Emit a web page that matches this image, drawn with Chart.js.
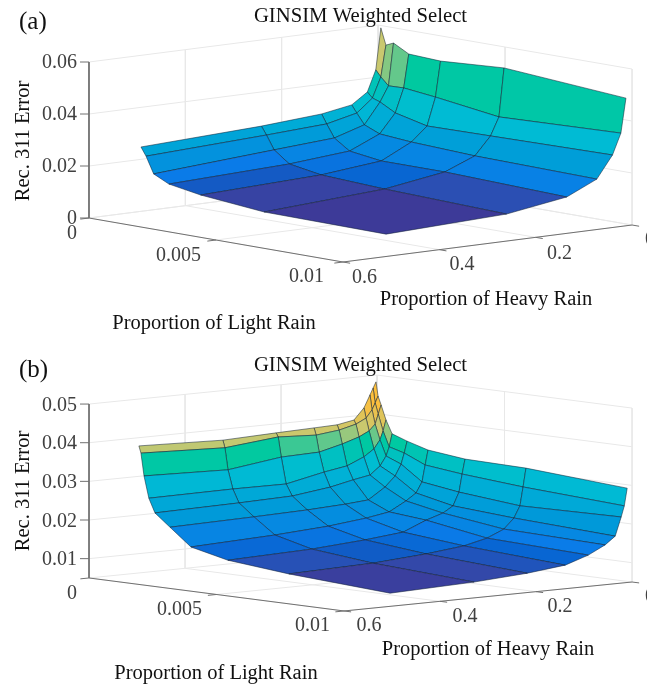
<!DOCTYPE html>
<html>
<head>
<meta charset="utf-8">
<title>GINSIM Weighted Select</title>
<script src="https://cdn.jsdelivr.net/npm/chart.js@4"></script>
<style>
    html, body { margin: 0; padding: 0; background: #ffffff; overflow: hidden; }
    canvas { display: block; }
</style>
</head>
<body>
<canvas id="chartA" width="647" height="342"></canvas>
<canvas id="chartB" width="647" height="343"></canvas>
<script>
// Tick labels
let lightTicks = [0, 0.005, 0.01];
let heavyTicks = [0, 0.2, 0.4, 0.6];
let errorTicksA = [0, 0.02, 0.04, 0.06];
let errorTicksB = [0.01, 0.02, 0.03, 0.04, 0.05];

// Panel (a): error[light][heavy]
let lightA = [0.00015, 0.00035, 0.00065, 0.00125, 0.0025, 0.005, 0.0098];
let heavyA = [0.002, 0.0125, 0.03, 0.0625, 0.125, 0.25, 0.5];
let errorA = [
    [0.0592, 0.0433, 0.0352, 0.0310, 0.0290, 0.0273, 0.0252],
    [0.0529, 0.0409, 0.0332, 0.0282, 0.0255, 0.0242, 0.0220],
    [0.0542, 0.0380, 0.0322, 0.0242, 0.0206, 0.0190, 0.0157],
    [0.0510, 0.0382, 0.0290, 0.0217, 0.0166, 0.0146, 0.0128],
    [0.0504, 0.0368, 0.0261, 0.0207, 0.0149, 0.0125, 0.0107],
    [0.0520, 0.0334, 0.0265, 0.0196, 0.0149, 0.0113, 0.0084],
    [0.0485, 0.0353, 0.0273, 0.0188, 0.0134, 0.0098, 0.0080]
];

// Panel (b): error[light][heavy]
let lightB = [0.00015, 0.00023, 0.00035, 0.00054, 0.00078, 0.00137, 0.00219, 0.00364, 0.00603, 0.01];
let heavyB = [0.01, 0.016, 0.0225, 0.035, 0.056, 0.091, 0.139, 0.218, 0.329, 0.504];
let errorB = [
    [0.0485, 0.0470, 0.0453, 0.0421, 0.0392, 0.0384, 0.0382, 0.0379, 0.0374, 0.0381],
    [0.0449, 0.0432, 0.0415, 0.0395, 0.0382, 0.0371, 0.0364, 0.0369, 0.0355, 0.0363],
    [0.0427, 0.0404, 0.0379, 0.0363, 0.0350, 0.0336, 0.0321, 0.0318, 0.0299, 0.0305],
    [0.0390, 0.0362, 0.0340, 0.0318, 0.0300, 0.0281, 0.0271, 0.0250, 0.0251, 0.0249],
    [0.0356, 0.0323, 0.0300, 0.0276, 0.0255, 0.0247, 0.0234, 0.0221, 0.0217, 0.0213],
    [0.0342, 0.0312, 0.0284, 0.0255, 0.0229, 0.0200, 0.0195, 0.0190, 0.0186, 0.0181],
    [0.0326, 0.0288, 0.0245, 0.0218, 0.0200, 0.0176, 0.0166, 0.0155, 0.0146, 0.0137],
    [0.0315, 0.0277, 0.0231, 0.0197, 0.0181, 0.0167, 0.0142, 0.0132, 0.0122, 0.0115],
    [0.0312, 0.0264, 0.0216, 0.0186, 0.0160, 0.0141, 0.0127, 0.0116, 0.0106, 0.0100],
    [0.0294, 0.0249, 0.0221, 0.0173, 0.0153, 0.0131, 0.0111, 0.0100, 0.0091, 0.0084]
];

// Colormap, one level list per panel
let colormap = ["#3d3a98", "#2f4db0", "#0860cc", "#0a7be8", "#009ad9", "#00bcd4", "#00c9a0", "#60c88c", "#c8c870", "#fdbf3c"];
let levelsA = [0.0094, 0.0123, 0.0128, 0.0155, 0.022, 0.031, 0.0442, 0.0452, 0.049, 0.055];
let levelsB = [0.0091, 0.0108, 0.0122, 0.0145, 0.020, 0.0285, 0.0335, 0.0348, 0.037, 0.043];

// View of the 3D box, canvas px per data unit
let viewA = { x0: 378, y0: 181, lx: 25400, ly: 4400, hx: 481.67, hy: 61.67, zs: 2600, zBase: 0 };
let viewB = { x0: 377, y0: 207, lx: 25500, ly: 3300, hx: 480, hy: 48.3, zs: 3865, zBase: 0.005 };

const SERIF = '"Liberation Serif", "Times New Roman", serif';
const GRID = "#e8e8e8";
const AXIS = "#707070";

function project(view, light, heavy, z) {
    return {
        x: view.x0 + view.lx * light - view.hx * heavy,
        y: view.y0 + view.ly * light + view.hy * heavy - view.zs * (z - view.zBase)
    };
}

function hexToRgb(hex) {
    return [1, 3, 5].map(k => parseInt(hex.substr(k, 2), 16));
}

function colorFor(value, levels) {
    if (value <= levels[0]) return colormap[0];
    for (let k = 1; k < levels.length; k++) {
        if (value <= levels[k]) {
            let t = (value - levels[k - 1]) / (levels[k] - levels[k - 1]);
            let a = hexToRgb(colormap[k - 1]);
            let b = hexToRgb(colormap[k]);
            let c = a.map((v, n) => Math.round(v + (b[n] - v) * t));
            return `rgb(${c[0]},${c[1]},${c[2]})`;
        }
    }
    return colormap[colormap.length - 1];
}

function lineSet(points, color, width) {
    return {
        data: points,
        showLine: true,
        fill: false,
        borderColor: color,
        borderWidth: width,
        pointRadius: 0,
        tension: 0,
        clip: false
    };
}

function buildDatasets(view, light, heavy, error, levels, errorTicks) {
    let sets = [];
    let lMax = lightTicks[lightTicks.length - 1];
    let hMax = heavyTicks[heavyTicks.length - 1];
    let zMax = errorTicks[errorTicks.length - 1];
    let zMin = view.zBase;

    // walls and floor grid
    errorTicks.forEach(z => {
        sets.push(lineSet([project(view, 0, hMax, z), project(view, 0, 0, z), project(view, lMax, 0, z)], GRID, 1));
    });
    heavyTicks.forEach(h => {
        sets.push(lineSet([project(view, 0, h, zMax), project(view, 0, h, zMin), project(view, lMax, h, zMin)], GRID, 1));
    });
    lightTicks.forEach(l => {
        sets.push(lineSet([project(view, l, 0, zMax), project(view, l, 0, zMin), project(view, l, hMax, zMin)], GRID, 1));
    });

    // axes with their tick marks
    sets.push(lineSet([project(view, 0, hMax, zMax), project(view, 0, hMax, zMin), project(view, lMax, hMax, zMin), project(view, lMax, 0, zMin)], AXIS, 1));
    errorTicks.forEach(z => {
        let p = project(view, 0, hMax, z);
        sets.push(lineSet([p, { x: p.x - 9, y: p.y }], AXIS, 1));
    });
    lightTicks.forEach(l => {
        sets.push(lineSet([project(view, l, hMax, zMin), project(view, l, hMax + 0.018, zMin)], AXIS, 1));
    });
    heavyTicks.forEach(h => {
        sets.push(lineSet([project(view, lMax, h, zMin), project(view, lMax + 0.00028, h, zMin)], AXIS, 1));
    });

    // surface quads, back corner first so the front ones paint over
    let quads = [];
    for (let i = 0; i < light.length - 1; i++) {
        for (let j = 0; j < heavy.length - 1; j++) {
            quads.push([i, j]);
        }
    }
    quads.sort((a, b) => (a[0] + a[1]) - (b[0] + b[1]));
    quads.forEach(q => {
        let i = q[0], j = q[1];
        let corners = [[i, j], [i + 1, j], [i + 1, j + 1], [i, j + 1], [i, j]];
        let mean = (error[i][j] + error[i + 1][j] + error[i + 1][j + 1] + error[i][j + 1]) / 4;
        sets.push({
            data: corners.map(c => project(view, light[c[0]], heavy[c[1]], error[c[0]][c[1]])),
            showLine: true,
            fill: "shape",
            backgroundColor: colorFor(mean, levels),
            borderColor: "rgba(15,30,50,0.8)",
            borderWidth: 0.65,
            pointRadius: 0,
            tension: 0,
            clip: false
        });
    });

    // Chart.js paints the first dataset last
    return sets.reverse();
}

function putText(ctx, str, x, y, size, color, align, angle) {
    ctx.save();
    ctx.translate(x, y);
    if (angle) ctx.rotate(angle);
    ctx.font = size + "px " + SERIF;
    ctx.fillStyle = color;
    ctx.textAlign = align || "center";
    ctx.textBaseline = "middle";
    // middle sits a little high for this font
    ctx.fillText(str, 0, 1.5);
    ctx.restore();
}

function makeChart(id, height, datasets, labels) {
    new Chart(document.getElementById(id), {
        type: "scatter",
        data: { datasets: datasets },
        options: {
            responsive: false,
            animation: false,
            events: [],
            layout: { padding: 0 },
            plugins: { legend: { display: false }, tooltip: { enabled: false } },
            scales: {
                x: { type: "linear", min: 0, max: 647, display: false },
                y: { type: "linear", min: 0, max: height, reverse: true, display: false }
            }
        },
        plugins: [{
            id: "labels",
            afterDraw: chart => labels(chart.ctx)
        }]
    });
}

const TICK = "#404040";
const INK = "#111111";

makeChart("chartA", 342, buildDatasets(viewA, lightA, heavyA, errorA, levelsA, errorTicksA), ctx => {
    putText(ctx, "(a)", 19, 21, 25, INK, "left");
    putText(ctx, "GINSIM Weighted Select", 360.5, 15, 20.7, INK);
    putText(ctx, "Rec. 311 Error", 22, 141, 20.5, INK, "center", -Math.PI / 2);
    errorTicksA.forEach(z => {
        let p = project(viewA, 0, 0.6, z);
        putText(ctx, String(z), 77, p.y - 1, 20, TICK, "right");
    });
    putText(ctx, "0", 77, 232, 20, TICK, "right");
    putText(ctx, "0.005", 201, 254, 20, TICK, "right");
    putText(ctx, "0.01", 324, 275, 20, TICK, "right");
    putText(ctx, "0.6", 364.5, 276, 20, TICK);
    putText(ctx, "0.4", 462, 263, 20, TICK);
    putText(ctx, "0.2", 559.5, 252, 20, TICK);
    putText(ctx, "0", 645, 238, 20, TICK, "left");
    putText(ctx, "Proportion of Light Rain", 214, 322, 20.5, INK);
    putText(ctx, "Proportion of Heavy Rain", 486, 298, 20.5, INK);
});

makeChart("chartB", 343, buildDatasets(viewB, lightB, heavyB, errorB, levelsB, errorTicksB), ctx => {
    putText(ctx, "(b)", 19, 27, 25, INK, "left");
    putText(ctx, "GINSIM Weighted Select", 360.5, 22, 20.7, INK);
    putText(ctx, "Rec. 311 Error", 22, 149, 20.5, INK, "center", -Math.PI / 2);
    errorTicksB.forEach(z => {
        let p = project(viewB, 0, 0.6, z);
        putText(ctx, z.toFixed(2), 77, p.y, 20, TICK, "right");
    });
    putText(ctx, "0", 77, 250, 20, TICK, "right");
    putText(ctx, "0.005", 202, 266, 20, TICK, "right");
    putText(ctx, "0.01", 330, 282, 20, TICK, "right");
    putText(ctx, "0.6", 369, 282, 20, TICK);
    putText(ctx, "0.4", 465, 273, 20, TICK);
    putText(ctx, "0.2", 560, 263, 20, TICK);
    putText(ctx, "0", 645, 253, 20, TICK, "left");
    putText(ctx, "Proportion of Light Rain", 216, 330, 20.5, INK);
    putText(ctx, "Proportion of Heavy Rain", 488, 306, 20.5, INK);
});
</script>
</body>
</html>
